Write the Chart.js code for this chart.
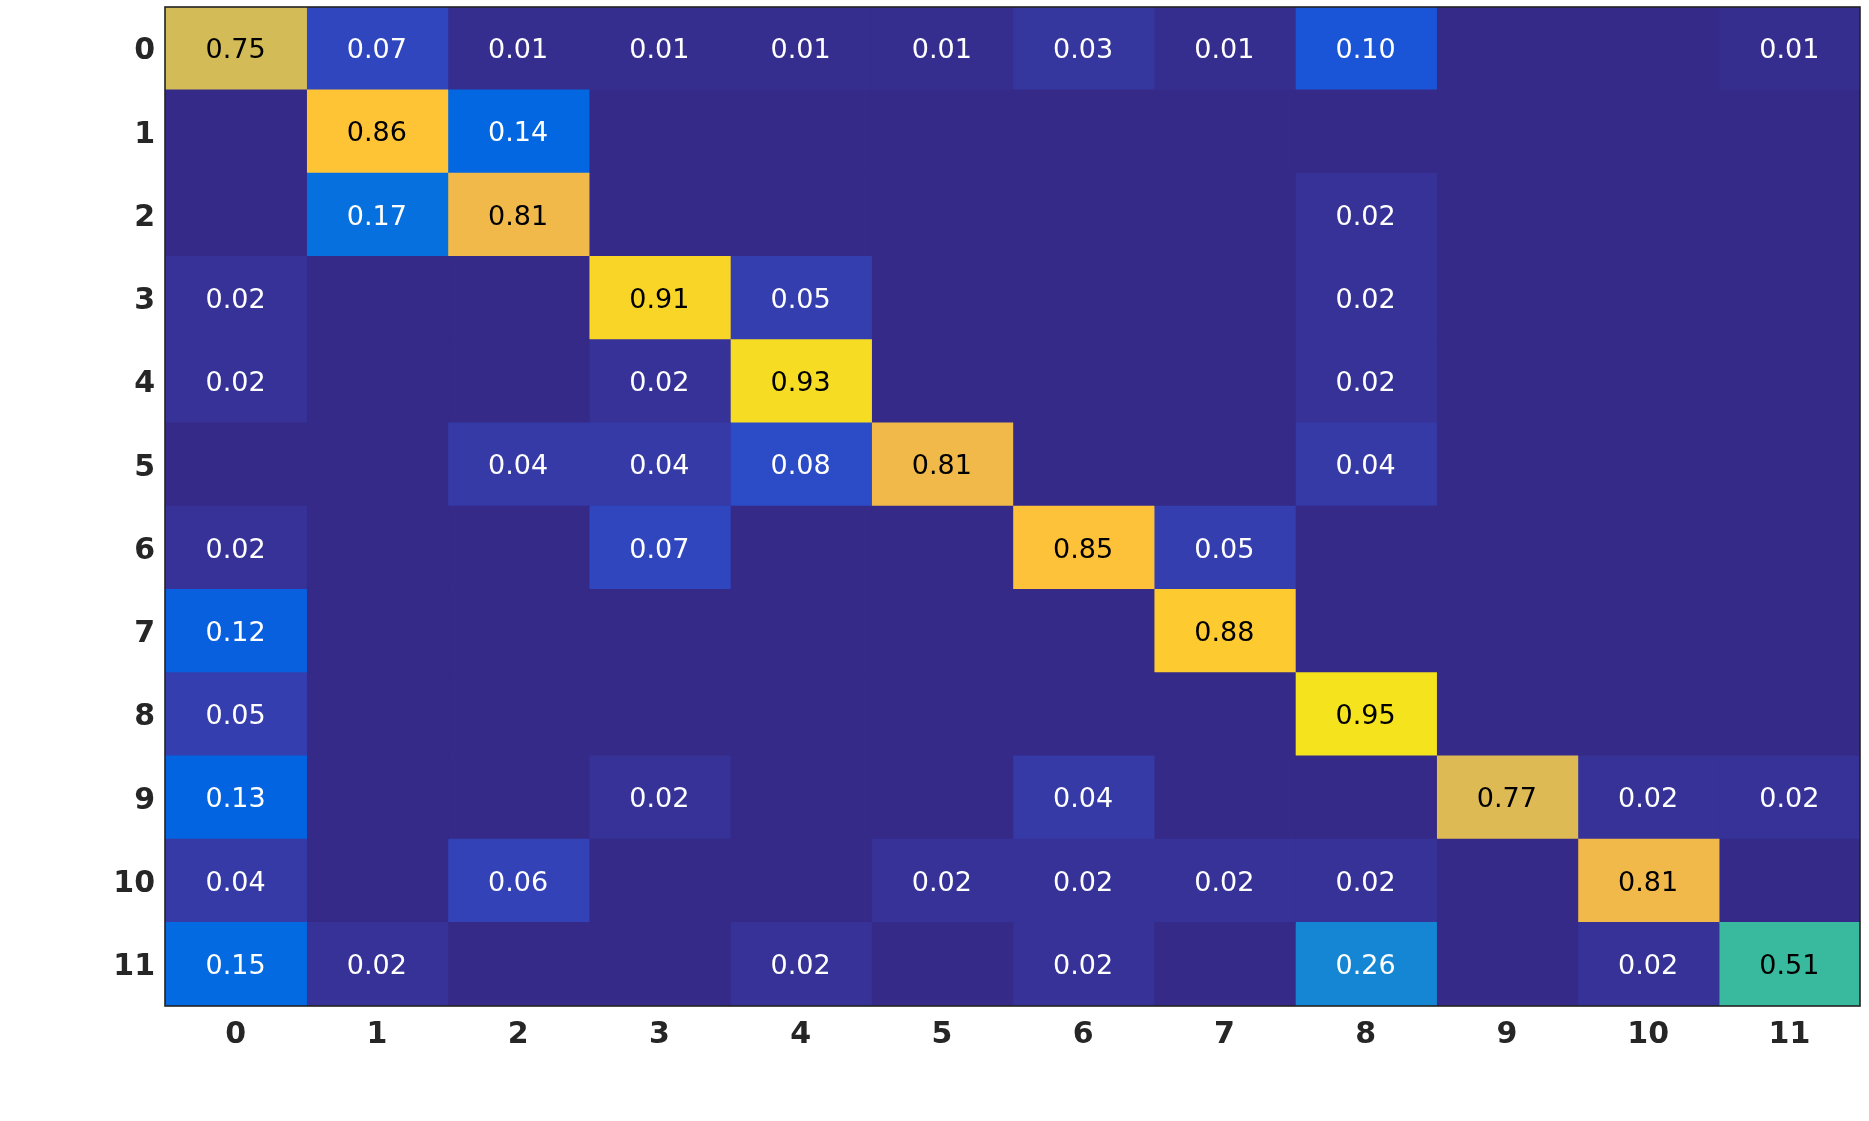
<!DOCTYPE html>
<html>
<head>
<meta charset="utf-8">
<script src="https://cdn.jsdelivr.net/npm/chart.js@4.4.1/dist/chart.umd.min.js"></script>
<style>
html,body{margin:0;padding:0;background:#ffffff;}
#wrap{width:1869px;height:1121px;position:relative;}
</style>
</head>
<body>
<div id="wrap"><canvas id="c"></canvas></div>
<script>
// ---- data ----
const rowLabels = ['0','1','2','3','4','5','6','7','8','9','10','11'];
const colLabels = ['0','1','2','3','4','5','6','7','8','9','10','11'];
const row0  = [0.75,0.07,0.01,0.01,0.01,0.01,0.03,0.01,0.10,0,0,0.01];
const row1  = [0,0.86,0.14,0,0,0,0,0,0,0,0,0];
const row2  = [0,0.17,0.81,0,0,0,0,0,0.02,0,0,0];
const row3  = [0.02,0,0,0.91,0.05,0,0,0,0.02,0,0,0];
const row4  = [0.02,0,0,0.02,0.93,0,0,0,0.02,0,0,0];
const row5  = [0,0,0.04,0.04,0.08,0.81,0,0,0.04,0,0,0];
const row6  = [0.02,0,0,0.07,0,0,0.85,0.05,0,0,0,0];
const row7  = [0.12,0,0,0,0,0,0,0.88,0,0,0,0];
const row8  = [0.05,0,0,0,0,0,0,0,0.95,0,0,0];
const row9  = [0.13,0,0,0.02,0,0,0.04,0,0,0.77,0.02,0.02];
const row10 = [0.04,0,0.06,0,0,0.02,0.02,0.02,0.02,0,0.81,0];
const row11 = [0.15,0.02,0,0,0.02,0,0.02,0,0.26,0,0.02,0.51];
const matrix = [row0,row1,row2,row3,row4,row5,row6,row7,row8,row9,row10,row11];

// ---- parula colormap (64 entries) ----
const PARULA = [
[0.2081,0.1663,0.5292],[0.2116,0.1898,0.5777],[0.2123,0.2138,0.6270],[0.2081,0.2386,0.6771],
[0.1959,0.2645,0.7279],[0.1707,0.2919,0.7792],[0.1253,0.3242,0.8303],[0.0591,0.3598,0.8683],
[0.0117,0.3875,0.8820],[0.0060,0.4086,0.8828],[0.0165,0.4266,0.8786],[0.0329,0.4430,0.8720],
[0.0498,0.4586,0.8641],[0.0629,0.4737,0.8554],[0.0723,0.4887,0.8467],[0.0779,0.5040,0.8384],
[0.0793,0.5200,0.8312],[0.0749,0.5375,0.8263],[0.0641,0.5570,0.8240],[0.0488,0.5772,0.8228],
[0.0343,0.5966,0.8199],[0.0265,0.6137,0.8135],[0.0239,0.6287,0.8038],[0.0231,0.6418,0.7913],
[0.0228,0.6535,0.7768],[0.0267,0.6642,0.7607],[0.0384,0.6743,0.7436],[0.0590,0.6838,0.7254],
[0.0843,0.6928,0.7062],[0.1133,0.7015,0.6859],[0.1453,0.7098,0.6646],[0.1801,0.7177,0.6424],
[0.2178,0.7250,0.6193],[0.2586,0.7317,0.5954],[0.3022,0.7376,0.5712],[0.3482,0.7424,0.5473],
[0.3953,0.7459,0.5244],[0.4420,0.7481,0.5033],[0.4871,0.7491,0.4840],[0.5300,0.7491,0.4661],
[0.5709,0.7485,0.4494],[0.6099,0.7473,0.4337],[0.6473,0.7456,0.4188],[0.6834,0.7435,0.4044],
[0.7184,0.7411,0.3905],[0.7525,0.7384,0.3768],[0.7858,0.7356,0.3633],[0.8185,0.7327,0.3498],
[0.8507,0.7299,0.3360],[0.8824,0.7274,0.3217],[0.9139,0.7258,0.3063],[0.9450,0.7261,0.2886],
[0.9739,0.7314,0.2666],[0.9938,0.7455,0.2403],[0.9990,0.7653,0.2164],[0.9955,0.7861,0.1967],
[0.9880,0.8066,0.1794],[0.9789,0.8271,0.1633],[0.9697,0.8481,0.1475],[0.9626,0.8705,0.1309],
[0.9589,0.8949,0.1132],[0.9598,0.9218,0.0948],[0.9661,0.9514,0.0755],[0.9763,0.9831,0.0538]];
function parula(v){
  const t = Math.max(0, Math.min(1, v)) * (PARULA.length - 1);
  const i = Math.min(PARULA.length - 2, Math.floor(t));
  const f = t - i;
  const a = PARULA[i], b = PARULA[i+1];
  const c = a.map((x,k)=>Math.round((x + (b[k]-x)*f)*255));
  return 'rgb(' + c.join(',') + ')';
}

const datasets = colLabels.map((c, ci) => ({
  label: c,
  data: matrix.map(() => [ci - 0.5, ci + 0.5]),
  cellValues: matrix.map(r => r[ci]),
  backgroundColor: matrix.map(r => parula(r[ci])),
  borderWidth: 0,
  inflateAmount: 0.7,
  barPercentage: 1,
  categoryPercentage: 1,
  grouped: false
}));

const cellPlugin = {
  id: 'cellPlugin',
  beforeDatasetsDraw(chart){
    const {ctx, chartArea:a} = chart;
    ctx.save();
    ctx.fillStyle = parula(0);
    ctx.fillRect(a.left, a.top, a.right - a.left, a.bottom - a.top);
    ctx.restore();
  },
  afterDatasetsDraw(chart){
    const {ctx, chartArea:a} = chart;
    ctx.save();
    ctx.font = '27px "DejaVu Sans"';
    ctx.textAlign = 'center';
    ctx.textBaseline = 'middle';
    chart.data.datasets.forEach((ds, di) => {
      const meta = chart.getDatasetMeta(di);
      meta.data.forEach((el, ri) => {
        const v = ds.cellValues[ri];
        if (!v) return;
        ctx.fillStyle = v >= 0.5 ? '#000000' : '#ffffff';
        ctx.fillText(v.toFixed(2), (el.x + el.base) / 2, el.y + 2.5);
      });
    });
    ctx.strokeStyle = '#222222';
    ctx.lineWidth = 1.6;
    ctx.strokeRect(a.left, a.top, a.right - a.left, a.bottom - a.top);
    ctx.restore();
  }
};

new Chart(document.getElementById('c'), {
  type: 'bar',
  data: { labels: rowLabels, datasets },
  options: {
    indexAxis: 'y',
    responsive: true,
    maintainAspectRatio: false,
    animation: false,
    layout: { padding: { top: 7, right: 9, left: 0, bottom: 0 } },
    plugins: { legend: { display: false }, tooltip: { enabled: false } },
    scales: {
      x: {
        type: 'linear',
        position: 'bottom',
        min: -0.5,
        max: 11.5,
        afterBuildTicks: (s) => { s.ticks = colLabels.map((_, i) => ({ value: i })); },
        afterFit: (s) => { s.height = 115; s.paddingLeft = 0; s.paddingRight = 0; },
        grid: { display: false, drawTicks: false },
        border: { display: false },
        ticks: {
          autoSkip: false,
          maxRotation: 0,
          padding: 11,
          color: '#262626',
          font: { family: '"DejaVu Sans"', size: 30, weight: 'bold' },
          callback: (v) => colLabels[v]
        }
      },
      y: {
        type: 'category',
        afterFit: (s) => { s.width = 165; s.paddingTop = 0; s.paddingBottom = 0; },
        grid: { display: false, drawTicks: false },
        border: { display: false },
        ticks: {
          autoSkip: false,
          padding: 10,
          labelOffset: 3,
          color: '#262626',
          font: { family: '"DejaVu Sans"', size: 30, weight: 'bold' }
        }
      }
    }
  },
  plugins: [cellPlugin]
});
</script>
</body>
</html>
